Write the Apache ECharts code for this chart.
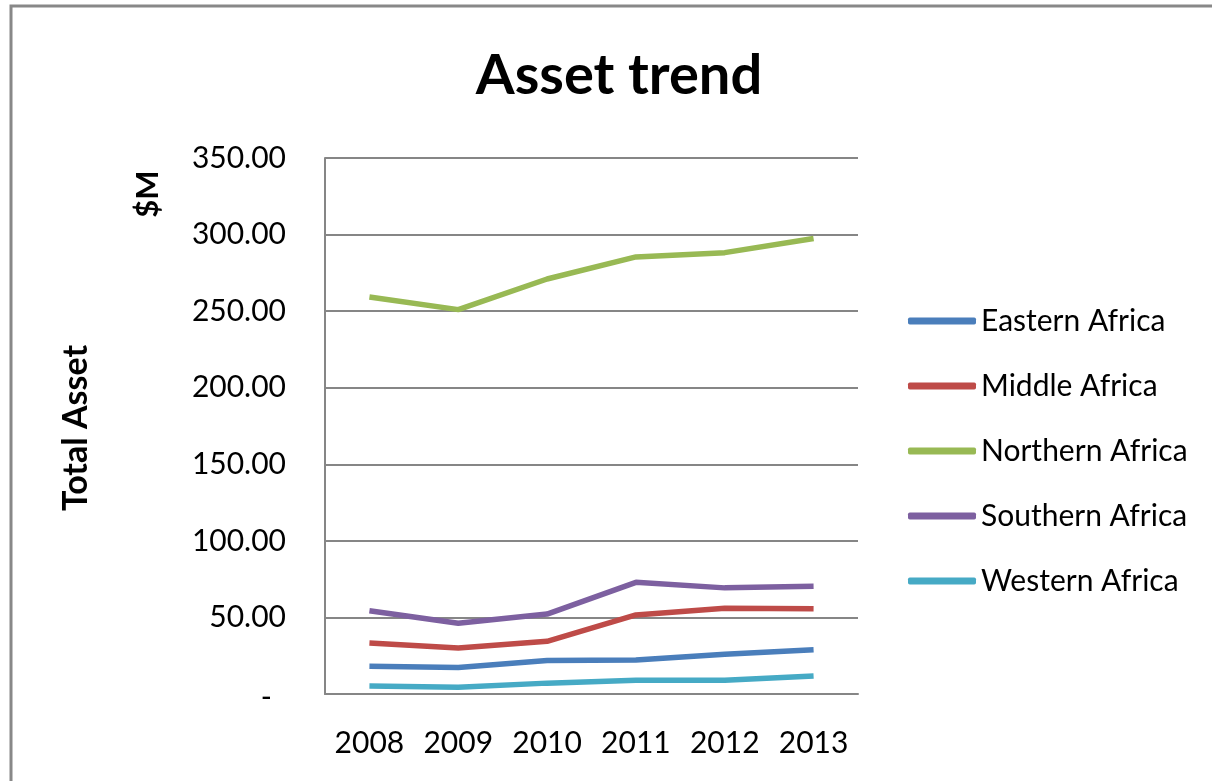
<!DOCTYPE html>
<html>
<head>
<meta charset="utf-8">
<script src="https://cdn.jsdelivr.net/npm/echarts@6/dist/echarts.min.js"></script>
<style>
  html, body { margin: 0; padding: 0; background: #fff; overflow: hidden; }
  #chart { width: 1212px; height: 781px; }
</style>
</head>
<body>
<div id="chart"></div>
<script>
// Years on the category axis
const years = ['2008', '2009', '2010', '2011', '2012', '2013'];

// Total assets per region, $M
const easternAfrica  = [18.2, 17.3, 21.8, 22.2, 26.0, 28.9];
const middleAfrica   = [33.3, 30.0, 34.4, 51.6, 56.0, 55.6];
const northernAfrica = [259.2, 251.0, 271.0, 285.4, 288.2, 297.4];
const southernAfrica = [54.4, 46.2, 52.2, 72.9, 69.3, 70.4];
const westernAfrica  = [5.3, 4.4, 7.1, 8.9, 8.9, 11.8];

const regionNames = ['Eastern Africa', 'Middle Africa', 'Northern Africa', 'Southern Africa', 'Western Africa'];
const regionValues = [easternAfrica, middleAfrica, northernAfrica, southernAfrica, westernAfrica];
const regionColors = ['#4a7ebb', '#be4b48', '#98b954', '#7d60a0', '#46aac5'];

const FONT = 'Lato, "Open Sans", sans-serif';
const GREY = '#868686';

const chart = echarts.init(document.getElementById('chart'), null, { renderer: 'canvas' });

chart.setOption({
  backgroundColor: '#ffffff',
  animation: false,
  graphic: [
    {
      // chart-area frame: left and top edges only
      type: 'polyline',
      shape: { points: [[11, 900], [11, 6], [1400, 6]] },
      style: { fill: null, stroke: '#888888', lineWidth: 3 },
      silent: true
    },
    {
      type: 'text',
      x: 619, y: 76,
      style: {
        text: 'Asset trend',
        font: 'bold 56px ' + FONT,
        fill: '#000',
        textAlign: 'center',
        textVerticalAlign: 'middle'
      }
    },
    {
      type: 'text',
      x: 76, y: 428,
      rotation: Math.PI / 2,
      style: {
        text: 'Total Asset',
        font: 'bold 34px ' + FONT,
        fill: '#000',
        textAlign: 'center',
        textVerticalAlign: 'middle'
      }
    },
    {
      type: 'text',
      x: 148, y: 194,
      rotation: Math.PI / 2,
      style: {
        text: '$M',
        font: 'bold 31px ' + FONT,
        fill: '#000',
        textAlign: 'center',
        textVerticalAlign: 'middle'
      }
    }
  ],
  legend: {
    orient: 'vertical',
    left: 908,
    top: 306,
    padding: 0,
    icon: 'roundRect',
    itemWidth: 68,
    itemHeight: 7,
    itemGap: 35,
    textStyle: { fontFamily: FONT, fontSize: 30, color: '#000', lineHeight: 30 },
    data: regionNames
  },
  grid: { left: 325, right: 354, top: 158, bottom: 87, containLabel: false },
  xAxis: {
    type: 'category',
    data: years,
    boundaryGap: true,
    axisLine: { show: true, lineStyle: { color: GREY, width: 2 } },
    axisTick: { show: false },
    axisLabel: { interval: 0, fontFamily: FONT, fontSize: 30, color: '#000', margin: 34 }
  },
  yAxis: {
    type: 'value',
    min: 0,
    max: 350,
    interval: 50,
    axisLine: { show: true, lineStyle: { color: GREY, width: 2 } },
    axisTick: { show: false },
    splitLine: { show: true, lineStyle: { color: GREY, width: 2 } },
    axisLabel: {
      fontFamily: FONT,
      fontSize: 30,
      color: '#000',
      margin: 39,
      formatter: function (v) {
        return v === 0 ? '{dash|-}' : v.toFixed(2);
      },
      rich: {
        dash: { fontFamily: FONT, fontSize: 30, color: '#000', padding: [6, 14, 0, 0] }
      }
    }
  },
  series: regionNames.map(function (name, i) {
    return {
      name: name,
      type: 'line',
      data: regionValues[i],
      showSymbol: false,
      symbol: 'none',
      lineStyle: { color: regionColors[i], width: 5.5 },
      itemStyle: { color: regionColors[i] }
    };
  })
});
</script>
</body>
</html>
